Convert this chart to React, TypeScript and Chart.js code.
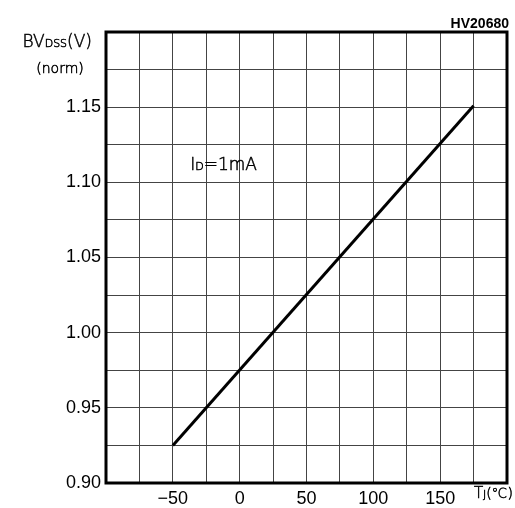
import React, { useEffect, useRef } from "react";
import { Chart, registerables } from "chart.js";

Chart.register(...registerables);

const tempC: number[] = [-50, 175];
const bvNorm: number[] = [0.925, 1.151];
const xTickLabels: number[] = [-50, 0, 50, 100, 150];
const yTickLabels: number[] = [0.9, 0.95, 1.0, 1.05, 1.1, 1.15];
const noteText = { main: "I", sub: "D", rest: "=1mA", x: -12, y: 1.112 };

const LIGHT = "'DejaVu Sans ExtraLight', 'DejaVu Sans', sans-serif";

function drawSub(ctx: CanvasRenderingContext2D, parts: { t: string; size: number; dy?: number }[], x: number, y: number, align: "left" | "right" | "center") {
  let total = 0;
  for (const p of parts) {
    ctx.font = `200 ${p.size}px ${LIGHT}`;
    total += ctx.measureText(p.t).width;
  }
  let cx = align === "left" ? x : align === "right" ? x - total : x - total / 2;
  ctx.textAlign = "left";
  ctx.textBaseline = "alphabetic";
  ctx.lineWidth = 0.5;
  ctx.strokeStyle = "#000";
  for (const p of parts) {
    ctx.font = `200 ${p.size}px ${LIGHT}`;
    ctx.fillText(p.t, cx, y + (p.dy || 0));
    ctx.strokeText(p.t, cx, y + (p.dy || 0));
    cx += ctx.measureText(p.t).width;
  }
}

const framePlugin = {
  id: "frameAndText",
  afterDraw(chart: any) {
    const { ctx, chartArea } = chart;
    const xs = chart.scales.x;
    const ys = chart.scales.y;
    ctx.save();
    ctx.strokeStyle = "#000";
    ctx.lineWidth = 3;
    ctx.strokeRect(chartArea.left, chartArea.top, chartArea.right - chartArea.left, chartArea.bottom - chartArea.top);
    ctx.fillStyle = "#000";
    // top-right code
    ctx.font = "bold 14px 'Liberation Sans', Arial, sans-serif";
    ctx.textAlign = "right";
    ctx.textBaseline = "alphabetic";
    ctx.fillText("HV20680", 509, 28);
    // y axis title
    drawSub(ctx, [
      { t: "BV", size: 17 },
      { t: "DSS", size: 11 },
      { t: "(V)", size: 17 },
    ], 92, 47, "right");
    drawSub(ctx, [{ t: "(norm)", size: 14 }], 60, 73, "center");
    // x axis title
    drawSub(ctx, [
      { t: "T", size: 15 },
      { t: "J", size: 11 },
      { t: "(℃)", size: 14 },
    ], 513, 498, "right");
    // note
    const nx = xs.getPixelForValue(noteText.x);
    const ny = ys.getPixelForValue(noteText.y);
    drawSub(ctx, [
      { t: noteText.main, size: 17 },
      { t: noteText.sub, size: 11 },
      { t: noteText.rest, size: 17 },
    ], nx, ny + 6, "center");
    ctx.restore();
  },
};

export default function App() {
  const ref = useRef<HTMLCanvasElement>(null);
  useEffect(() => {
    if (!ref.current) return;
    const near = (v: number, arr: number[]) => arr.some((a) => Math.abs(a - v) < 1e-6);
    const chart = new Chart(ref.current, {
      type: "line",
      data: {
        datasets: [
          {
            data: tempC.map((t, i) => ({ x: t, y: bvNorm[i] })),
            borderColor: "#000",
            borderWidth: 3,
            pointRadius: 0,
            tension: 0,
          },
        ],
      },
      options: {
        animation: false,
        responsive: false,
        layout: { padding: { top: 32, right: 8, left: 0, bottom: 0 } },
        plugins: { legend: { display: false }, tooltip: { enabled: false }, title: { display: false } },
        scales: {
          x: {
            type: "linear",
            min: -100,
            max: 200,
            afterFit: (s: any) => { s.height = 25; },
            grid: { color: "#444", lineWidth: 1, drawTicks: false },
            border: { display: false },
            ticks: {
              stepSize: 25,
              padding: 5,
              autoSkip: false,
              maxRotation: 0,
              color: "#000",
              font: { family: "'Liberation Sans', Arial, sans-serif", size: 18 },
              callback: (v: any) => (near(Number(v), xTickLabels) ? String(Math.round(Number(v))).replace("-", "−") : ""),
            },
          },
          y: {
            type: "linear",
            min: 0.9,
            max: 1.2,
            afterFit: (s: any) => { s.width = 106; },
            grid: { color: "#444", lineWidth: 1, drawTicks: false },
            border: { display: false },
            ticks: {
              stepSize: 0.025,
              padding: 5,
              autoSkip: false,
              color: "#000",
              font: { family: "'Liberation Sans', Arial, sans-serif", size: 18 },
              callback: (v: any) => (near(Number(v), yTickLabels) ? Number(v).toFixed(2) : ""),
            },
          },
        },
      },
      plugins: [framePlugin],
    } as any);
    return () => chart.destroy();
  }, []);
  return (
    <div style={{ position: "fixed", left: 0, top: 0, width: 515, height: 508, background: "#fff" }}>
      <canvas ref={ref} width={515} height={508} style={{ display: "block" }} />
    </div>
  );
}
